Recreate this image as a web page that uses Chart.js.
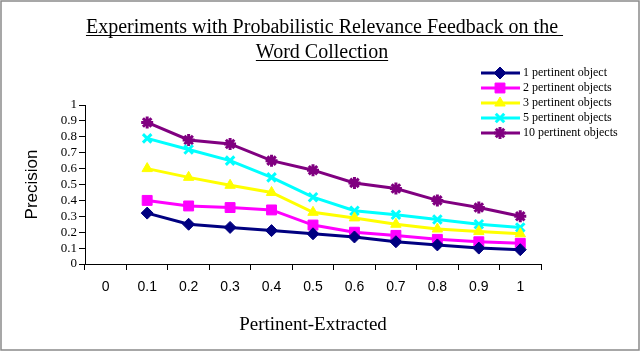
<!DOCTYPE html>
<html>
<head>
<meta charset="utf-8">
<script src="https://cdn.jsdelivr.net/npm/chart.js@4/dist/chart.umd.min.js"></script>
<style>
  html, body { margin: 0; padding: 0; background: #fff; }
  canvas { display: block; }
</style>
</head>
<body>
<canvas id="precisionChart" width="640" height="352"></canvas>
<script>
var categorias = ['0', '0.1', '0.2', '0.3', '0.4', '0.5', '0.6', '0.7', '0.8', '0.9', '1'];
var serie1 = [null, 0.32, 0.25, 0.23, 0.21, 0.19, 0.17, 0.14, 0.12, 0.10, 0.09];
var serie2 = [null, 0.40, 0.365, 0.355, 0.34, 0.245, 0.20, 0.18, 0.155, 0.14, 0.13];
var serie3 = [null, 0.60, 0.545, 0.495, 0.45, 0.325, 0.29, 0.25, 0.22, 0.205, 0.19];
var serie5 = [null, 0.79, 0.72, 0.65, 0.545, 0.42, 0.335, 0.31, 0.28, 0.25, 0.23];
var serie10 = [null, 0.89, 0.78, 0.755, 0.65, 0.59, 0.51, 0.475, 0.40, 0.355, 0.30];
var nombres = ['1 pertinent object', '2 pertinent objects', '3 pertinent objects', '5 pertinent objects', '10 pertinent objects'];

var serif = '"Liberation Serif", "Times New Roman", serif';
var sans = '"Liberation Sans", Arial, sans-serif';

function serie(label, data, color, style, radius, bw) {
    return {
        label: label,
        data: data,
        borderColor: color,
        backgroundColor: color,
        borderWidth: 3,
        pointStyle: style,
        pointRadius: radius,
        pointHoverRadius: radius,
        pointBorderWidth: bw,
        pointBackgroundColor: color,
        pointBorderColor: color,
        tension: 0,
        spanGaps: false
    };
}

// titulo subrayado, leyenda y marco
var decoracion = {
    id: 'decoracion',
    afterDraw: function(chart) {
        var ctx = chart.ctx;
        ctx.save();

        ctx.strokeStyle = '#8a8a8a';
        ctx.lineWidth = 1.5;
        ctx.strokeRect(1, 1, 638, 349);

        ctx.fillStyle = '#000';
        ctx.strokeStyle = '#000';
        ctx.lineWidth = 1;
        ctx.font = '20px ' + serif;
        ctx.textBaseline = 'alphabetic';
        ctx.textAlign = 'left';
        var l1 = 'Experiments with Probabilistic Relevance Feedback on the';
        var w1 = ctx.measureText(l1).width;
        var wu = ctx.measureText(l1 + ' ').width;
        var x1 = 322 - w1 / 2;
        ctx.fillText(l1, x1, 33);
        ctx.beginPath();
        ctx.moveTo(x1, 35.5);
        ctx.lineTo(x1 + wu, 35.5);
        ctx.stroke();
        var l2 = 'Word Collection';
        var w2 = ctx.measureText(l2).width;
        var x2 = 322 - w2 / 2;
        ctx.fillText(l2, x2, 58);
        ctx.beginPath();
        ctx.moveTo(x2, 60.5);
        ctx.lineTo(x2 + w2, 60.5);
        ctx.stroke();

        ctx.font = '12px ' + serif;
        ctx.textBaseline = 'middle';
        chart.data.datasets.forEach(function(ds, i) {
            var y = 73 + i * 15;
            ctx.strokeStyle = ds.borderColor;
            ctx.fillStyle = ds.backgroundColor;
            ctx.lineWidth = 3;
            ctx.beginPath();
            ctx.moveTo(481, y);
            ctx.lineTo(520, y);
            ctx.stroke();
            ctx.lineWidth = ds.pointBorderWidth;
            Chart.helpers.drawPoint(ctx, {
                pointStyle: ds.pointStyle,
                radius: ds.pointRadius,
                rotation: 0,
                borderWidth: ds.pointBorderWidth
            }, 500, y);
            ctx.fillStyle = '#000';
            ctx.fillText(ds.label, 523, y);
        });
        ctx.restore();
    }
};

var ctx = document.getElementById('precisionChart').getContext('2d');
var chart = new Chart(ctx, {
    type: 'line',
    data: {
        labels: categorias,
        datasets: [
            serie(nombres[0], serie1, '#000080', 'rectRot', 6, 1),
            serie(nombres[1], serie2, '#ff00ff', 'rect', 7, 1),
            serie(nombres[2], serie3, '#ffff00', 'triangle', 6, 1),
            serie(nombres[3], serie5, '#00ffff', 'crossRot', 6, 3),
            serie(nombres[4], serie10, '#800080', 'star', 6, 3)
        ]
    },
    options: {
        responsive: false,
        animation: false,
        devicePixelRatio: 1,
        layout: { padding: { top: 105, left: 0, right: 99, bottom: 0 } },
        plugins: {
            legend: { display: false },
            title: { display: false },
            tooltip: { enabled: false }
        },
        scales: {
            x: {
                type: 'category',
                offset: true,
                afterFit: function(scale) { scale.height = 88; },
                grid: { offset: true, drawOnChartArea: false, tickLength: 6, color: '#000' },
                border: { color: '#000', width: 1 },
                ticks: {
                    color: '#000',
                    font: { family: sans, size: 14 },
                    padding: 9,
                    autoSkip: false,
                    maxRotation: 0
                },
                title: {
                    display: true,
                    text: 'Pertinent-Extracted',
                    color: '#000',
                    font: { family: serif, size: 19 },
                    padding: { top: 0, bottom: 16 }
                }
            },
            y: {
                min: 0,
                max: 1,
                afterFit: function(scale) { scale.width = 85; },
                grid: { drawOnChartArea: false, tickLength: 6, color: '#000' },
                border: { color: '#000', width: 1 },
                ticks: {
                    stepSize: 0.1,
                    autoSkip: false,
                    color: '#000',
                    font: { family: serif, size: 13 },
                    padding: 2,
                    callback: function(v) { return Math.round(v * 10) / 10; }
                },
                title: {
                    display: true,
                    text: 'Precision',
                    color: '#000',
                    font: { family: sans, size: 17 },
                    padding: { top: 22, bottom: 0 }
                }
            }
        }
    },
    plugins: [decoracion]
});
</script>
</body>
</html>
